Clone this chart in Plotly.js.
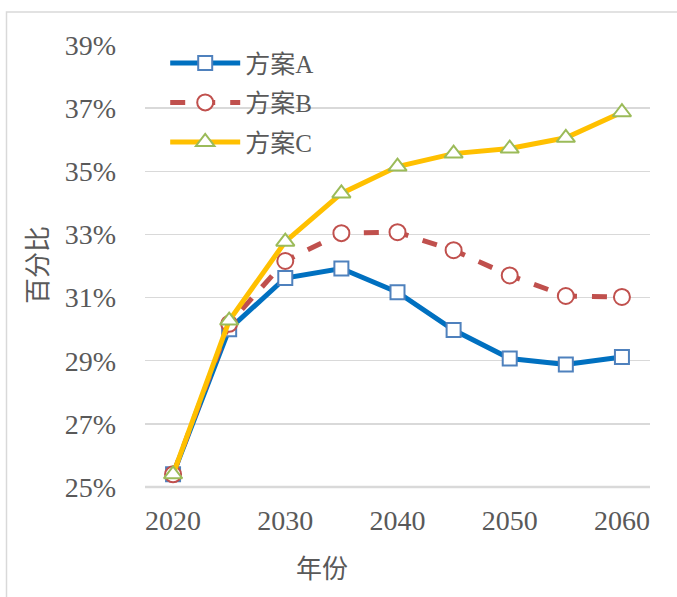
<!DOCTYPE html>
<html>
<head>
<meta charset="utf-8">
<script src="https://cdn.plot.ly/plotly-3.0.1.min.js"></script>
<style>
html,body{margin:0;padding:0;background:#fff;}
#chart{width:677px;height:597px;}
</style>
</head>
<body>
<div id="chart"></div>
<script>
const years = [2020, 2025, 2030, 2035, 2040, 2045, 2050, 2055, 2060];
const planA = [25.4, 30.0, 31.62, 31.92, 31.17, 29.97, 29.07, 28.88, 29.12];
const planB = [25.4, 30.17, 32.16, 33.04, 33.07, 32.5, 31.7, 31.05, 31.02];
const planC = [25.4, 30.27, 32.77, 34.3, 35.15, 35.56, 35.72, 36.06, 36.87];
const seriesNames = ['方案A', '方案B', '方案C'];
const yTicks = [25, 27, 29, 31, 33, 35, 37, 39];
const xTicks = [2020, 2030, 2040, 2050, 2060];

const serif = '"Liberation Serif", "Noto Sans CJK SC", serif';
const grey = '#595959';

const traces = [
  {
    x: years, y: planA, name: seriesNames[0], type: 'scatter', mode: 'lines+markers',
    legendgroup: 'a',
    line: {color: '#0070C0', width: 5},
    marker: {symbol: 'square', size: 14, color: '#ffffff', line: {color: '#4F81BD', width: 2}}
  },
  {
    x: years, y: planB, name: seriesNames[1], type: 'scatter', mode: 'lines+markers',
    legendgroup: 'b',
    line: {color: '#C0504D', width: 5, dash: 'dash'},
    marker: {symbol: 'circle', size: 16, color: '#ffffff', line: {color: '#C0504D', width: 2}}
  },
  {
    x: years, y: planC, name: seriesNames[2], type: 'scatter', mode: 'lines+markers',
    legendgroup: 'c',
    line: {color: '#FFC000', width: 5},
    marker: {symbol: 'triangle-up', size: 16, color: '#ffffff', line: {color: '#9BBB59', width: 2}}
  }
];

const layout = {
  width: 677, height: 597,
  margin: {l: 145, r: 27, t: 45, b: 110},
  paper_bgcolor: '#ffffff', plot_bgcolor: '#ffffff',
  showlegend: true,
  legend: {
    x: 0.04, y: 1.011, xanchor: 'left', yanchor: 'top',
    bgcolor: 'rgba(255,255,255,0)',
    font: {family: serif, size: 25, color: grey},
    tracegroupgap: 4,
    itemwidth: 70
  },
  xaxis: {
    range: [2017.5, 2062.5],
    tickvals: xTicks,
    ticktext: xTicks.map(String),
    showgrid: false, zeroline: false,
    showline: false,
    ticks: '', ticklabelstandoff: 14,
    tickfont: {family: serif, size: 28, color: grey},
    fixedrange: true
  },
  yaxis: {
    range: [25, 39],
    tickvals: yTicks,
    ticktext: yTicks.map(v => v + '%'),
    showgrid: true, gridcolor: '#D9D9D9', gridwidth: 1.5,
    zeroline: false, showline: false,
    ticks: '', ticklabelstandoff: 28,
    tickfont: {family: serif, size: 28, color: grey},
    fixedrange: true
  },
  annotations: [
    {
      text: '百分比', xref: 'paper', yref: 'paper',
      x: -0.212, y: 0.502, xanchor: 'center', yanchor: 'middle',
      textangle: -90, showarrow: false,
      font: {family: serif, size: 26, color: grey}
    },
    {
      text: '年份', xref: 'paper', yref: 'paper',
      x: 0.35, y: -0.186, xanchor: 'center', yanchor: 'middle',
      showarrow: false,
      font: {family: serif, size: 26, color: grey}
    }
  ],
  shapes: [
    {
      type: 'line', xref: 'paper', yref: 'paper',
      x0: 0, x1: 1, y0: 0, y1: 0,
      line: {color: '#D9D9D9', width: 2.5}
    },
    {
      type: 'rect', xref: 'paper', yref: 'paper',
      x0: (6.5 - 145) / 505, x1: (690 - 145) / 505,
      y0: (487 - 620) / 442, y1: (487 - 12) / 442,
      line: {color: '#D9D9D9', width: 1.5},
      fillcolor: 'rgba(0,0,0,0)', layer: 'below'
    }
  ]
};

Plotly.newPlot('chart', traces, layout, {displayModeBar: false, staticPlot: true});
</script>
</body>
</html>
